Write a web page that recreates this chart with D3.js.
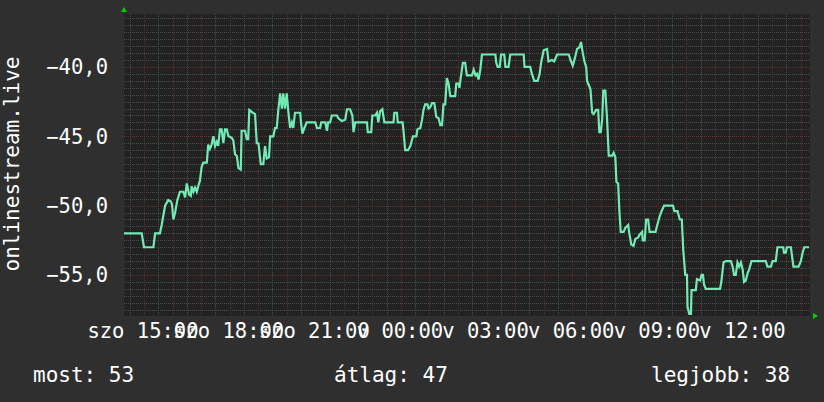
<!DOCTYPE html>
<html>
<head>
<meta charset="utf-8">
<script src="https://cdn.jsdelivr.net/npm/d3@7/dist/d3.min.js"></script>
<style>
  body { margin: 0; background: #2f2f2f; }
  svg { display: block; font-family: "DejaVu Sans Mono", monospace; }
</style>
</head>
<body>
<div id="chart"></div>
<script>
// Heure (depuis samedi 00:00, donc > 24 = dimanche) et rang
const hours = [
  14.30, 14.92, 15.00, 15.33, 15.39, 15.56, 15.62, 15.74, 15.85, 15.94,
  15.98, 16.03, 16.09, 16.17, 16.26, 16.38, 16.44, 16.50, 16.58, 16.64,
  16.67, 16.73, 16.79, 16.85, 16.90, 16.96, 17.02, 17.08, 17.20, 17.25,
  17.31, 17.37, 17.43, 17.49, 17.55, 17.60, 17.66, 17.72, 17.78, 17.84,
  17.90, 17.96, 18.07, 18.13, 18.19, 18.25, 18.31, 18.39, 18.42, 18.54,
  18.60, 18.65, 18.69, 18.81, 18.89, 18.95, 19.01, 19.09, 19.18, 19.24,
  19.30, 19.38, 19.42, 19.53, 19.59, 19.65, 19.71, 19.77, 19.83, 19.88,
  19.94, 20.00, 20.06, 20.12, 20.18, 20.23, 20.29, 20.47, 20.50, 20.55,
  20.62, 20.70, 21.00, 21.06, 21.17, 21.21, 21.35, 21.41, 21.45, 21.52,
  21.58, 21.76, 21.81, 21.93, 22.05, 22.11, 22.22, 22.30, 22.34, 22.40,
  22.81, 22.84, 22.96, 23.00, 23.10, 23.16, 23.21, 23.27, 23.35, 23.42,
  23.74, 23.77, 23.86, 23.89, 24.06, 24.09, 24.15, 24.25, 24.33, 24.42,
  24.54, 24.58, 24.68, 24.74, 24.79, 24.85, 24.93, 24.97, 25.03, 25.09,
  25.17, 25.24, 25.32, 25.38, 25.44, 25.49, 25.55, 25.61, 25.67, 25.73,
  25.90, 25.94, 26.02, 26.05, 26.10, 26.17, 26.25, 26.31, 26.49, 26.55,
  26.61, 26.66, 26.72, 26.78, 26.84, 27.31, 27.34, 27.39, 27.46, 27.51,
  27.62, 27.66, 27.77, 27.83, 28.30, 28.33, 28.53, 28.59, 28.67, 28.79,
  28.86, 28.91, 29.00, 29.12, 29.17, 29.29, 29.37, 29.47, 29.88, 29.94,
  30.02, 30.09, 30.17, 30.25, 30.31, 30.37, 30.44, 30.49, 30.52, 30.58,
  30.64, 30.70, 30.75, 30.84, 30.91, 30.95, 31.00, 31.05, 31.09, 31.16,
  31.22, 31.28, 31.40, 31.45, 31.51, 31.55, 31.61, 31.65, 31.70, 31.80,
  31.86, 31.96, 32.00, 32.07, 32.15, 32.21, 32.31, 32.36, 32.45, 32.47,
  32.54, 32.59, 32.66, 32.71, 32.92, 32.98, 33.06, 33.13, 33.22, 33.53,
  33.58, 33.69, 33.77, 33.84, 33.89, 33.96, 34.02, 34.04, 34.10, 34.16,
  34.18, 34.33, 34.37, 34.48, 34.53, 34.58, 34.62, 34.68, 35.18, 35.23,
  35.30, 35.38, 35.56, 35.62, 35.67, 35.73, 35.79, 35.85, 35.91, 35.97,
  36.02, 36.08, 36.14, 36.20, 36.28, 36.78, 36.84, 36.96, 37.02, 37.13,
  37.19, 37.39, 37.42, 37.48, 37.52, 37.66, 37.75, 37.93, 38.01, 38.07,
  38.13, 38.30
];
const rank = [
  -52, -52, -53, -53, -52, -52, -51.4, -50, -49.6, -49.7,
  -49.9, -51, -50.5, -49.6, -49, -49, -49.4, -48.4, -49.2, -49.3,
  -48.6, -49, -48.7, -49, -48.6, -48.2, -47.2, -46.9, -46.9, -45.6,
  -45.9, -45.6, -45, -45.7, -45.4, -45.7, -44.5, -44.5, -45.5, -44.5,
  -44.5, -45, -45.1, -45.3, -46.3, -46.4, -47.3, -47.4, -44.6, -44.6,
  -45.2, -45.2, -43.1, -43.3, -43.4, -45.5, -45.5, -47, -47, -45.7,
  -46.6, -46.5, -45, -45, -44.4, -44.4, -43, -41.9, -43, -41.9,
  -43, -41.9, -43.3, -44.4, -44, -44.4, -43.3, -43.3, -44, -44.8,
  -44.4, -44, -44, -44.4, -44.4, -44, -44, -44.6, -44, -44,
  -43.5, -43.5, -43.7, -43.9, -43.8, -43.05, -43.05, -43.5, -44.7, -44,
  -44, -44.7, -44.7, -43.5, -43.5, -43.3, -44, -43.2, -43.05, -44,
  -44, -43.3, -43.3, -44, -44, -44.6, -46, -46, -45.7, -45,
  -45, -44.5, -44.4, -43.8, -43.1, -42.7, -42.7, -43, -42.9, -42.6,
  -42.6, -43.6, -43.7, -44.2, -44.2, -42.7, -42.7, -40.8, -41.2, -42.1,
  -42.1, -41.2, -41.2, -41.5, -40.7, -39.7, -39.7, -40.6, -40.6, -40.2,
  -40.6, -40.5, -40.9, -40.2, -39.1, -39.1, -39.7, -40, -40, -39.1,
  -39.1, -40, -40, -39.1, -39.1, -40, -40, -40.5, -41, -41,
  -40.5, -39.7, -38.8, -38.7, -39.6, -39.5, -39.6, -39.1, -39.1, -39.5,
  -39.9, -39.4, -38.7, -38.6, -38.2, -39, -39.7, -40, -41, -41.3,
  -41.6, -43.3, -43.4, -43.1, -43.1, -44.7, -44.7, -43.8, -41.7, -41.7,
  -43.7, -46.4, -46.4, -46.2, -46.5, -48.3, -48.4, -50.3, -51.9, -51.9,
  -51.6, -51.4, -52, -52.8, -52.9, -52.4, -52.3, -52.1, -51.9, -52.5,
  -52.5, -51, -51, -51.9, -51.9, -51.4, -50.8, -50.4, -50, -50,
  -50.4, -50.4, -51, -51, -53.2, -55, -55, -57.3, -57.8, -57.8,
  -56.1, -56.1, -55.3, -55.4, -55, -55, -55.7, -56, -56, -55.4,
  -54.1, -54, -54, -54.4, -55, -55, -54.1, -54.4, -54.1, -54.6,
  -55.5, -55.4, -54.9, -54.6, -54, -54, -54.4, -54.4, -54, -54,
  -53, -53, -53.4, -53.4, -53, -53, -54.4, -54.4, -54, -53.4,
  -53, -53
];

// Axes
const tickHours = [15, 18, 21, 24, 27, 30, 33, 36];
const tickLabels = ["szo 15:00", "szo 18:00", "szo 21:00", "v 00:00",
                    "v 03:00", "v 06:00", "v 09:00", "v 12:00"];
const yTicks = [-40, -45, -50, -55];
const yTitle = "onlinestream.live";

// Légende du bas
const legendNames = ["most", "átlag", "legjobb"];
const legendValues = [53, 47, 38];

const W = 824, H = 402;
const plot = {left: 124, right: 810, top: 14, bottom: 316};

const x = d3.scaleLinear().domain([14.30, 38.33]).range([plot.left, plot.right]);
const y = d3.scaleLinear().domain([-57.96, -36.18]).range([plot.bottom, plot.top]);

const svg = d3.select("#chart").append("svg")
    .attr("width", W)
    .attr("height", H);

svg.append("rect").attr("width", W).attr("height", H).attr("fill", "#2f2f2f");
svg.append("rect")
    .attr("x", plot.left).attr("y", plot.top)
    .attr("width", plot.right - plot.left).attr("height", plot.bottom - plot.top)
    .attr("fill", "#222222");

// Grille : mineure toutes les 30 min / 0,5 ; majeure toutes les heures / 5
const [h0, h1] = x.domain();
const [v0, v1] = y.domain();
const minorX = d3.range(Math.ceil(h0 * 2) / 2, h1, 0.5).filter(h => h % 1 !== 0);
const majorX = d3.range(Math.ceil(h0), h1, 1);
const minorY = d3.range(Math.ceil(v0 * 2) / 2, v1, 0.5).filter(v => v % 5 !== 0);

const grid = svg.append("g").attr("shape-rendering", "crispEdges");

grid.selectAll(".minorX").data(minorX).enter().append("line")
    .attr("x1", d => Math.round(x(d)) + 0.5).attr("x2", d => Math.round(x(d)) + 0.5)
    .attr("y1", plot.top).attr("y2", plot.bottom)
    .attr("stroke", "#4a4a4a").attr("stroke-dasharray", "1,1");
grid.selectAll(".minorY").data(minorY).enter().append("line")
    .attr("x1", plot.left).attr("x2", plot.right)
    .attr("y1", d => Math.round(y(d)) + 0.5).attr("y2", d => Math.round(y(d)) + 0.5)
    .attr("stroke", "#4a4a4a").attr("stroke-dasharray", "1,1");
grid.selectAll(".majorX").data(majorX).enter().append("line")
    .attr("x1", d => Math.round(x(d)) + 0.5).attr("x2", d => Math.round(x(d)) + 0.5)
    .attr("y1", plot.top).attr("y2", plot.bottom + 2)
    .attr("stroke", "#5a2d2d").attr("stroke-dasharray", "1,1");
grid.selectAll(".majorY").data(yTicks).enter().append("line")
    .attr("x1", plot.left - 2).attr("x2", plot.right)
    .attr("y1", d => Math.round(y(d)) + 0.5).attr("y2", d => Math.round(y(d)) + 0.5)
    .attr("stroke", "#6a3030").attr("stroke-dasharray", "1,1");

// Courbe
const data = hours.map((h, i) => ({h: h, v: rank[i]}));
const line = d3.line()
    .x(d => x(d.h))
    .y(d => y(d.v));
svg.append("path")
    .datum(data)
    .attr("d", line)
    .attr("fill", "none")
    .attr("stroke", "#72eab4")
    .attr("stroke-width", 2.2)
    .attr("stroke-linejoin", "miter");

// Flèches vertes des axes
svg.append("path")
    .attr("d", `M${plot.left - 3},${plot.top - 2}L${plot.left + 3},${plot.top - 2}L${plot.left},${plot.top - 7}Z`)
    .attr("fill", "#00d000");
svg.append("path")
    .attr("d", `M${plot.right + 3},${plot.bottom - 3}L${plot.right + 3},${plot.bottom + 3}L${plot.right + 8},${plot.bottom}Z`)
    .attr("fill", "#00d000");

// Libellés Y
svg.append("g").selectAll("text").data(yTicks).enter().append("text")
    .attr("x", 108)
    .attr("y", d => y(d))
    .attr("dy", "0.36em")
    .attr("text-anchor", "end")
    .attr("fill", "#ffffff")
    .style("font-size", "20.5px")
    .text(d => d3.format(".1f")(d).replace(".", ","));

// Libellés X (ils se chevauchent comme sur l'original)
svg.append("g").selectAll("text").data(tickHours).enter().append("text")
    .attr("x", d => x(d) - 1)
    .attr("y", 331)
    .attr("dy", "0.36em")
    .attr("text-anchor", "middle")
    .attr("fill", "#ffffff")
    .style("font-size", "20.5px")
    .text((d, i) => tickLabels[i]);

// Titre vertical
svg.append("text")
    .attr("transform", "translate(19,164) rotate(-90)")
    .attr("text-anchor", "middle")
    .attr("fill", "#ffffff")
    .style("font-size", "21px")
    .text(yTitle);

// Légende
const legendX = [33, 334, 651];
svg.append("g").selectAll("text").data(legendNames).enter().append("text")
    .attr("x", (d, i) => legendX[i])
    .attr("y", 374)
    .attr("dy", "0.36em")
    .attr("fill", "#ffffff")
    .style("font-size", "21px")
    .text((d, i) => d + ": " + legendValues[i]);
</script>
</body>
</html>
